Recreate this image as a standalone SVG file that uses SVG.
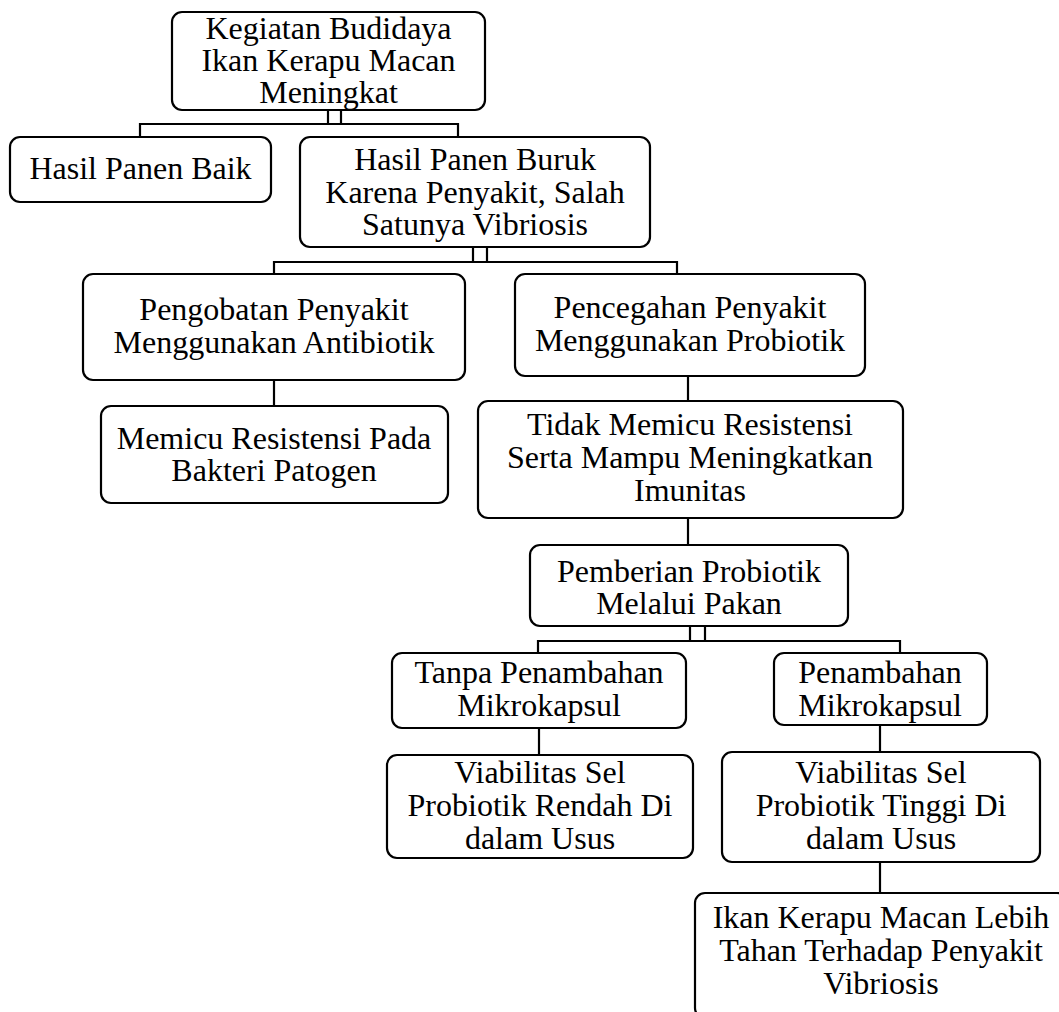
<svg xmlns="http://www.w3.org/2000/svg" width="1059" height="1012" viewBox="0 0 1059 1012">
<defs>
<style>
.box{fill:#fff;stroke:#000;stroke-width:2.2}
.c{fill:none;stroke:#000;stroke-width:2.2}
</style>
</defs>
<rect width="1059" height="1012" fill="#fff"/>
<g id="connectors">
<path class="c" d="M328,110V124M341,110V124M140,137V124H458V137"/>
<path class="c" d="M473,247V262M487,247V262M274,274V262H677V274"/>
<path class="c" d="M274,380V406"/>
<path class="c" d="M688,376V401"/>
<path class="c" d="M688,518V545"/>
<path class="c" d="M690,626V641M705,626V641M538,653V641H900V653"/>
<path class="c" d="M539,728V755"/>
<path class="c" d="M880,725V752"/>
<path class="c" d="M880,862V893"/>
</g>
<g id="nodes" font-family="Liberation Serif, Tinos, Times New Roman, DejaVu Serif, serif" font-size="32" text-anchor="middle" fill="#000">
<g id="n1"><rect class="box" x="172" y="12" width="313" height="98" rx="10"/>
<text x="328.5" y="39">Kegiatan Budidaya</text><text x="328.5" y="71">Ikan Kerapu Macan</text><text x="328.5" y="103">Meningkat</text></g>
<g id="n2"><rect class="box" x="10" y="137" width="261" height="65" rx="10"/>
<text x="140.5" y="179">Hasil Panen Baik</text></g>
<g id="n3"><rect class="box" x="300" y="137" width="350" height="110" rx="10"/>
<text x="475" y="170">Hasil Panen Buruk</text><text x="475" y="203">Karena Penyakit, Salah</text><text x="475" y="235">Satunya Vibriosis</text></g>
<g id="n4"><rect class="box" x="83" y="274" width="382" height="106" rx="10"/>
<text x="274" y="320">Pengobatan Penyakit</text><text x="274" y="353">Menggunakan Antibiotik</text></g>
<g id="n5"><rect class="box" x="515" y="274" width="350" height="102" rx="10"/>
<text x="690" y="318">Pencegahan Penyakit</text><text x="690" y="351">Menggunakan Probiotik</text></g>
<g id="n6"><rect class="box" x="101" y="406" width="347" height="97" rx="10"/>
<text x="274" y="449">Memicu Resistensi Pada</text><text x="274" y="481">Bakteri Patogen</text></g>
<g id="n7"><rect class="box" x="478" y="401" width="425" height="117" rx="10"/>
<text x="690" y="435">Tidak Memicu Resistensi</text><text x="690" y="468">Serta Mampu Meningkatkan</text><text x="690" y="501">Imunitas</text></g>
<g id="n8"><rect class="box" x="530" y="545" width="318" height="81" rx="10"/>
<text x="689" y="582">Pemberian Probiotik</text><text x="689" y="614">Melalui Pakan</text></g>
<g id="n9"><rect class="box" x="392" y="653" width="294" height="75" rx="10"/>
<text x="539" y="683">Tanpa Penambahan</text><text x="539" y="716">Mikrokapsul</text></g>
<g id="n10"><rect class="box" x="774" y="653" width="213" height="72" rx="10"/>
<text x="880" y="683">Penambahan</text><text x="880" y="716">Mikrokapsul</text></g>
<g id="n11"><rect class="box" x="387" y="755" width="306" height="103" rx="10"/>
<text x="540" y="783">Viabilitas Sel</text><text x="540" y="816">Probiotik Rendah Di</text><text x="540" y="849">dalam Usus</text></g>
<g id="n12"><rect class="box" x="722" y="752" width="318" height="110" rx="10"/>
<text x="881" y="783">Viabilitas Sel</text><text x="881" y="816">Probiotik Tinggi Di</text><text x="881" y="849">dalam Usus</text></g>
<g id="n13"><rect class="box" x="695" y="893" width="372" height="125" rx="10"/>
<text x="881" y="928">Ikan Kerapu Macan Lebih</text><text x="881" y="961">Tahan Terhadap Penyakit</text><text x="881" y="994">Vibriosis</text></g>
</g>
</svg>
